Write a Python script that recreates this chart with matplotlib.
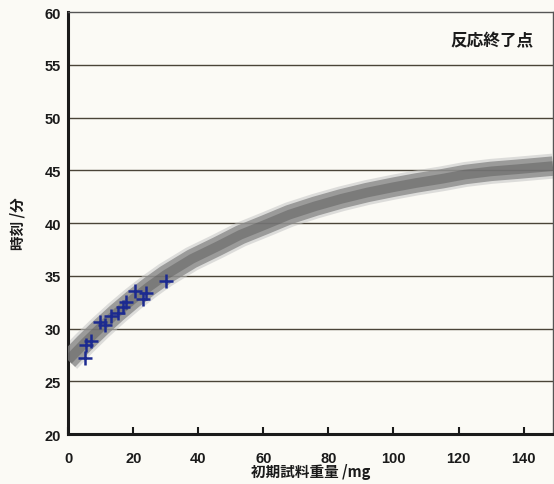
import matplotlib
matplotlib.use("Agg")
import matplotlib.pyplot as plt

plt.rcParams['font.family'] = ['Noto Sans CJK JP', 'DejaVu Sans']

# smooth band
curve_x = [0, 5, 10, 15, 20, 25, 30, 38, 46, 53, 61, 68, 76, 84, 92,
           100, 107, 115, 122, 130, 138, 149]
curve_y = [27.0, 28.6, 30.1, 31.5, 32.8, 34.0, 35.1, 36.6, 37.8, 38.9, 39.9,
           40.8, 41.6, 42.3, 42.9, 43.4, 43.8, 44.2, 44.6, 44.9, 45.1, 45.4]

# measured points (blue +)
meas_x = [5.1, 5.6, 7.1, 9.7, 11.2, 13.2, 15.3, 16.8, 17.8, 20.4, 22.9, 24.0, 30.1]
meas_y = [27.2, 28.4, 28.8, 30.6, 30.3, 31.2, 31.5, 32.0, 32.5, 33.6, 32.8, 33.4, 34.5]

xticks = [0, 20, 40, 60, 80, 100, 120, 140]
yticks = [20, 25, 30, 35, 40, 45, 50, 55, 60]

bg = '#fbfaf5'
fig = plt.figure(figsize=(5.54, 4.85), dpi=100, facecolor=bg)
ax = fig.add_axes([0.123, 0.103, 0.875, 0.870], facecolor=bg)

# grid lines
for y in yticks[1:-1]:
    ax.axhline(y, color='#4a4438', lw=1.0, zorder=1)

# fuzzy gray band
ax.plot(curve_x, curve_y, color='#c4c4c4', lw=18, alpha=0.55, solid_capstyle='butt',
        solid_joinstyle='round', zorder=2)
ax.plot(curve_x, curve_y, color='#858585', lw=14, alpha=0.75, solid_capstyle='butt',
        solid_joinstyle='round', zorder=3)
ax.plot(curve_x, curve_y, color='#555555', lw=7, alpha=0.45, solid_capstyle='butt',
        solid_joinstyle='round', zorder=4)

ax.plot(meas_x, meas_y, '+', color='#1c2a90', ms=10, mew=1.8, zorder=5)

ax.set_xlim(0, 149)
ax.set_ylim(20, 60)
ax.set_xticks(xticks)
ax.set_yticks(yticks)

for s in ['left', 'bottom']:
    ax.spines[s].set_linewidth(2.2)
    ax.spines[s].set_color('#1a1a1a')
for s in ['top', 'right']:
    ax.spines[s].set_linewidth(1.0)
    ax.spines[s].set_color('#555555')

ax.tick_params(axis='x', direction='in', length=5, width=1.5, pad=12,
               labelsize=10.5, colors='#1a1a1a')
ax.tick_params(axis='y', length=0, pad=5, labelsize=10.5, colors='#1a1a1a')
for lab in ax.get_xticklabels() + ax.get_yticklabels():
    lab.set_fontweight('bold')
    lab.set_family(['Liberation Sans', 'DejaVu Sans'])

ax.set_xlabel('初期試料重量 /mg', fontsize=10.5, fontweight='bold', labelpad=-1, color='#1a1a1a')
ax.set_ylabel('時刻 /分', fontsize=10.5, fontweight='bold', labelpad=14, color='#1a1a1a')

ax.text(0.96, 0.955, '反応終了点', transform=ax.transAxes, ha='right', va='top',
        fontsize=12, fontweight='bold', color='#1a1a1a')

fig.savefig('out.png', dpi=100, facecolor=bg)
